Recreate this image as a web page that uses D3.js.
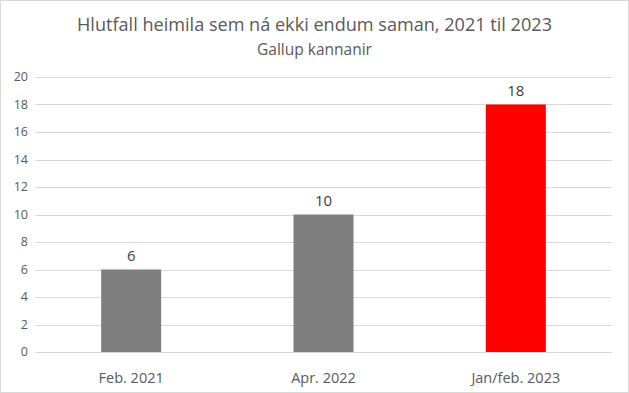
<!DOCTYPE html>
<html>
<head>
<meta charset="utf-8">
<script src="https://cdn.jsdelivr.net/npm/d3@7"></script>
<style>
  body { margin: 0; background: #fff; }
  svg { display: block; font-family: "Open Sans", "Noto Sans", sans-serif; }
</style>
</head>
<body>
<div id="chart"></div>
<script>
var categories = ["Feb. 2021", "Apr. 2022", "Jan/feb. 2023"];
var values = [6, 10, 18];
var barColors = ["#7f7f7f", "#7f7f7f", "#ff0000"];
var yTicks = [0, 2, 4, 6, 8, 10, 12, 14, 16, 18, 20];

var width = 629, height = 393;
var margin = { top: 77, right: 17, bottom: 41, left: 35 };

var svg = d3.select("#chart").append("svg")
  .attr("width", width)
  .attr("height", height);

// outer border
svg.append("rect")
  .attr("x", 0.5).attr("y", 0.5)
  .attr("width", width - 1).attr("height", height - 1)
  .attr("fill", "#fff")
  .attr("stroke", "#d9d9d9");

var x = d3.scaleBand()
  .domain(categories)
  .range([margin.left, width - margin.right])
  .paddingInner(0.688)
  .paddingOuter(0.344);

var y = d3.scaleLinear()
  .domain([0, 20])
  .range([height - margin.bottom, margin.top]);

// gridlines
svg.append("g")
  .selectAll("line")
  .data(yTicks)
  .enter()
  .append("line")
  .attr("x1", margin.left)
  .attr("x2", width - margin.right)
  .attr("y1", function (d) { return Math.round(y(d)) + 0.5; })
  .attr("y2", function (d) { return Math.round(y(d)) + 0.5; })
  .attr("stroke", "#d9d9d9")
  .attr("stroke-width", 1);

// y tick labels
svg.append("g")
  .selectAll("text")
  .data(yTicks)
  .enter()
  .append("text")
  .attr("x", 28)
  .attr("y", function (d) { return y(d); })
  .attr("dy", "0.35em")
  .attr("text-anchor", "end")
  .attr("font-size", 12.5)
  .attr("fill", "#595959")
  .text(function (d) { return d; });

// bars
svg.append("g")
  .selectAll("rect")
  .data(values)
  .enter()
  .append("rect")
  .attr("x", function (d, i) { return x(categories[i]); })
  .attr("width", x.bandwidth())
  .attr("y", function (d) { return y(d); })
  .attr("height", function (d) { return y(0) - y(d); })
  .attr("fill", function (d, i) { return barColors[i]; });

// value labels
svg.append("g")
  .selectAll("text")
  .data(values)
  .enter()
  .append("text")
  .attr("x", function (d, i) { return x(categories[i]) + x.bandwidth() / 2; })
  .attr("y", function (d) { return y(d) - 9; })
  .attr("text-anchor", "middle")
  .attr("font-size", 15)
  .attr("fill", "#404040")
  .text(function (d) { return d; });

// category labels
svg.append("g")
  .selectAll("text")
  .data(categories)
  .enter()
  .append("text")
  .attr("x", function (d) { return x(d) + x.bandwidth() / 2; })
  .attr("y", height - margin.bottom + 31)
  .attr("text-anchor", "middle")
  .attr("font-size", 14.5)
  .attr("fill", "#595959")
  .text(function (d) { return d; });

// title + subtitle
svg.append("text")
  .attr("x", width / 2)
  .attr("y", 31)
  .attr("text-anchor", "middle")
  .attr("font-size", 18.1)
  .attr("fill", "#595959")
  .text("Hlutfall heimila sem ná ekki endum saman, 2021 til 2023");

svg.append("text")
  .attr("x", width / 2)
  .attr("y", 55)
  .attr("text-anchor", "middle")
  .attr("font-size", 15.5)
  .attr("fill", "#595959")
  .text("Gallup kannanir");
</script>
</body>
</html>
